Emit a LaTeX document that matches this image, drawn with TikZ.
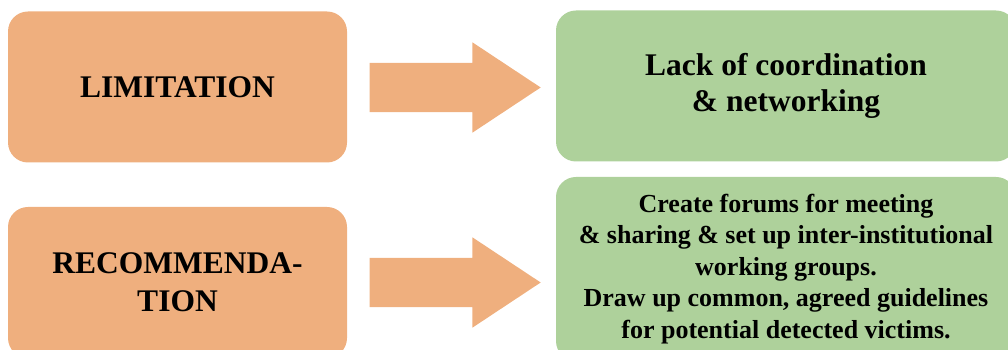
\documentclass[tikz,border=0pt]{standalone}
\usepackage{fontspec}
\setmainfont{Liberation Serif}
\usetikzlibrary{positioning,shapes.arrows}
\definecolor{peach}{HTML}{EFAF7E}
\definecolor{sage}{HTML}{AED19B}

\begin{document}
\begin{tikzpicture}[x=1pt,y=1pt,
		box/.style={rounded corners=20pt,inner sep=0pt,align=center,draw=none},
		bigarrow/.style={single arrow,fill=peach,draw=none,inner sep=0pt,
			minimum height=171pt,text height=24.5pt,text depth=24.5pt,
			single arrow head extend=20.5pt,single arrow tip angle=67}]
			\path[use as bounding box,clip] (0,0) rectangle (1008,350);
			\coordinate (o) at (0,350);
			%% left column
			\node[box,fill=peach,minimum width=339pt,minimum height=151pt,
				font=\bfseries\fontsize{31.5}{36}\selectfont,
				below right=87pt and 177.5pt of o,anchor=center] (lim) {LIMITATION};
			\node[box,fill=peach,minimum width=339pt,minimum height=151pt,
				font=\bfseries\fontsize{31.5}{38}\selectfont,
				below right=282.5pt and 177.5pt of o,anchor=center] (rec) {RECOMMENDA-\\TION};
			%% right column
			\node[box,fill=sage,minimum width=460pt,minimum height=151pt,
				font=\bfseries\fontsize{31.5}{36}\selectfont,
				below right=86pt and 786pt of o,anchor=center] (lack) {Lack of coordination\\\& networking};
			\node[box,fill=sage,minimum width=460pt,minimum height=184pt,
				font=\bfseries\fontsize{26}{31.5}\selectfont,
				below right=269pt and 786pt of o,anchor=center] (forum) {Create forums for meeting\\\& sharing \& set up inter-institutional\\working groups.\\Draw up common, agreed guidelines\\for potential detected victims.};
			% arrows between the columns
			\node[bigarrow,below right=87.5pt and 436.5pt of o,anchor=center] (arrA) {};
			\node[bigarrow,below right=282.5pt and 436.5pt of o,anchor=center] (arrB) {};
		\end{tikzpicture}
\end{document}
